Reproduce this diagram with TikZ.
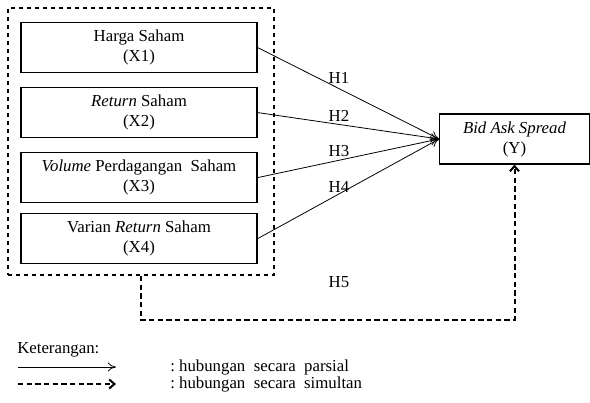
\documentclass[tikz,border=0pt]{standalone}
\usepackage{fontspec}
\setmainfont{Liberation Serif}
\usetikzlibrary{arrows.meta, positioning, fit, calc}
\tikzset{
  varbox/.style={rectangle, draw=black, line width=0.8pt, fill=white, align=center,
              minimum width=177pt, minimum height=37.5pt, inner sep=2pt},
  grpbox/.style={rectangle, draw=black, dashed, line width=1.5pt, inner sep=0pt},
  parsial/.style={-{To[length=2.2mm, width=2.4mm]}, draw=black, line width=0.6pt},
  simul/.style={-{Straight Barb[length=1.4mm, width=2.4mm]}, draw=black, dashed,
              line width=1.5pt, dash pattern=on 4pt off 2.5pt},
  hlbl/.style={inner sep=0pt},
}

\begin{document}
\begin{tikzpicture}[x=0.75pt, y=-0.75pt, node distance=10.5pt,
    every node/.style={font=\fontsize{12.6}{15}\selectfont}]
  \useasboundingbox (0,0) rectangle (590,403);
  % variabel bebas
  \node[varbox] (x1) at (139,47.5) {Harga Saham\\(X1)};
  \node[varbox, below=of x1] (x2) {\textit{Return} Saham\\(X2)};
  \node[varbox, below=of x2] (x3) {\textit{Volume} Perdagangan\ \ Saham\\(X3)};
  \node[varbox, below=7.5pt of x3] (x4) {Varian \textit{Return} Saham\\(X4)};
  \coordinate (gtl) at (8,8);
  \coordinate (gbr) at (274,275);
  \node[grpbox, fit=(gtl) (gbr)] (grp) {};
  % variabel terikat
  \node[varbox, minimum width=112.5pt] (y) at (514.5,139) {\textit{Bid Ask Spread}\\(Y)};
  \draw[parsial] (x1.east) -- (y.west);
  \draw[parsial] (x2.east) -- (y.west);
  \draw[parsial] (x3.east) -- (y.west);
  \draw[parsial] (x4.east) -- (y.west);
  \node[hlbl] (h1) at (339,78) {H1};
  \node[hlbl] (h2) at (339,116) {H2};
  \node[hlbl] (h3) at (339,151) {H3};
  \node[hlbl] (h4) at (339,187) {H4};
  \node[hlbl] (h5) at (339,282) {H5};
  \coordinate (low) at (0,320);
  \draw[simul] (grp.south) |- (low -| y.south) -- (y.south);
  % keterangan
  \node[hlbl, anchor=west] (ket) at (17,350) {Keterangan:};
  \coordinate (la1) at (18,367);
  \coordinate (lb1) at (116,367);
  \coordinate (la2) at (18,384);
  \coordinate (lb2) at (116,384);
  \draw[parsial] (la1) -- (lb1);
  \draw[simul] (la2) -- (lb2);
  \node[hlbl, anchor=west] (kp) at (170,367) {:\ hubungan\ \ secara\ \ parsial};
  \node[hlbl, anchor=west] (ks) at (170,384) {:\ hubungan\ \ secara\ \ simultan};
\end{tikzpicture}
\end{document}
